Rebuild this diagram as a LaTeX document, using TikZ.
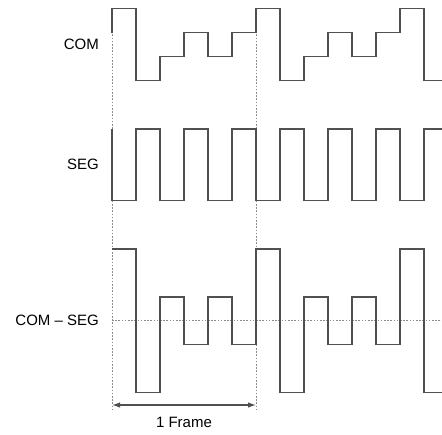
\documentclass[tikz,border=0pt]{standalone}
\usepackage{fontspec}
\setmainfont{Liberation Sans}
\usetikzlibrary{arrows.meta}
\definecolor{wave}{RGB}{80,80,80}
\definecolor{guide}{RGB}{140,140,140}
\tikzset{
  wavef/.style={draw=wave, line width=1.2pt, line join=miter},
  guideline/.style={draw=guide, line width=1pt, dash pattern=on 1.6pt off 1.6pt},
  lbl/.style={anchor=east, inner sep=0pt, font=\fontsize{15}{18}\selectfont, text=black},
  framearrow/.style={draw=wave, line width=1.2pt, {Latex[length=8pt,width=5.5pt]}-{Latex[length=8pt,width=5.5pt]}},
}
\begin{document}
\begin{tikzpicture}[x=1pt,y=-1pt]
\useasboundingbox (0,0) rectangle (442,434);
% frame guides
\coordinate (f1t) at (112,8.7);
\coordinate (f1b) at (112,410);
\coordinate (f2t) at (256,8.7);
\coordinate (f2b) at (256,410);
\coordinate (a1) at (112,405);
\coordinate (a2) at (256,405);
\coordinate (m1) at (112,320.7);
\coordinate (m2) at (442,320.7);
\draw[guideline] (f1t) -- (f1b);
\draw[guideline] (f2t) -- (f2b);
\draw[guideline] (m1) -- (m2);
% labels
\node[lbl] (com) at (99,44.5) {COM};
\node[lbl] (seg) at (99,164.5) {SEG};
\node[lbl] (diff) at (99,320.7) {COM – SEG};
% COM waveform
\draw[wavef] (112,32.7) -- (112,8.7) -- (136,8.7) -- (136,80.7) -- (160,80.7) -- (160,56.7) -- (184,56.7) -- (184,32.7) -- (208,32.7) -- (208,56.7) -- (232,56.7) -- (232,32.7) -- (256,32.7) -- (256,8.7) -- (280,8.7) -- (280,80.7) -- (304,80.7) -- (304,56.7) -- (328,56.7) -- (328,32.7) -- (352,32.7) -- (352,56.7) -- (376,56.7) -- (376,32.7) -- (400,32.7) -- (400,8.7) -- (424,8.7) -- (424,80.7) -- (442,80.7);
% SEG waveform
\draw[wavef] (112,129) -- (112,200.3) -- (136,200.3) -- (136,129) -- (160,129) -- (160,200.3) -- (184,200.3) -- (184,129) -- (208,129) -- (208,200.3) -- (232,200.3) -- (232,129) -- (256,129) -- (256,200.3) -- (280,200.3) -- (280,129) -- (304,129) -- (304,200.3) -- (328,200.3) -- (328,129) -- (352,129) -- (352,200.3) -- (376,200.3) -- (376,129) -- (400,129) -- (400,200.3) -- (424,200.3) -- (424,129) -- (442,129);
% COM - SEG waveform
\draw[wavef] (112,249) -- (136,249) -- (136,392.7) -- (160,392.7) -- (160,297) -- (184,297) -- (184,344.7) -- (208,344.7) -- (208,297) -- (232,297) -- (232,344.7) -- (256,344.7) -- (256,249) -- (280,249) -- (280,392.7) -- (304,392.7) -- (304,297) -- (328,297) -- (328,344.7) -- (352,344.7) -- (352,297) -- (376,297) -- (376,344.7) -- (400,344.7) -- (400,249) -- (424,249) -- (424,392.7) -- (442,392.7);
% frame arrow
\draw[framearrow] (a1) -- (a2);
\node[font=\fontsize{15}{18}\selectfont, inner sep=0pt] (frame) at (184,422.5) {1 Frame};
\end{tikzpicture}
\end{document}
